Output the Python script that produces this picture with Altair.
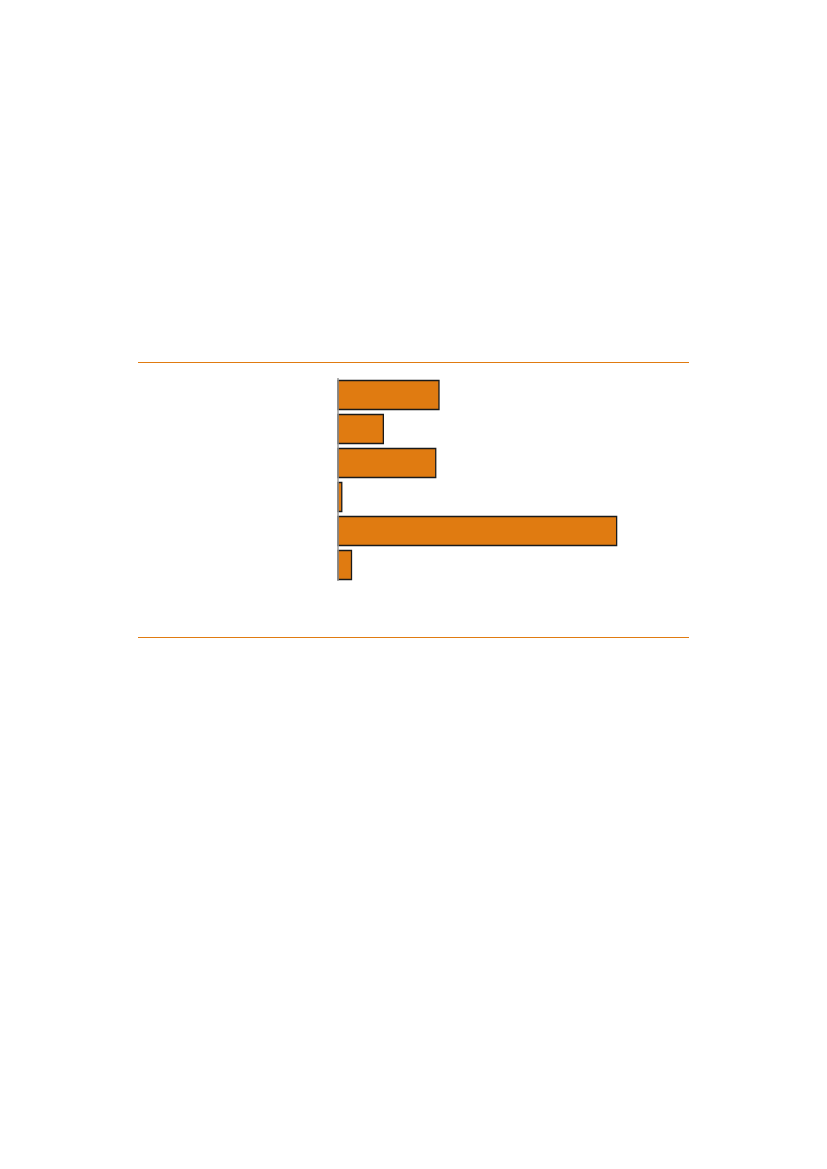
import altair as alt
import pandas as pd

categories = ["A", "B", "C", "D", "E", "F"]
values = [18.7, 8.4, 18.1, 0.7, 51.6, 2.5]

df = pd.DataFrame({"cat": categories, "val": values})

bars = alt.Chart(df).mark_bar(
    fill="#E07B11", stroke="#1a1a1a", strokeWidth=1.3
).encode(
    y=alt.Y("cat:N", sort=None, axis=None,
            scale=alt.Scale(range=[18.5, 217.5], paddingInner=0.147, paddingOuter=0)),
    x=alt.X("val:Q", axis=None, scale=alt.Scale(domain=[0, 65], nice=False)),
)

axis_line = alt.Chart().mark_rule(color="#999999", strokeWidth=1.5).encode(
    x=alt.value(0), y=alt.value(16), y2=alt.value(219)
)

top_rule = alt.Chart().mark_rule(color="#E07B11", strokeWidth=1).encode(
    x=alt.value(-200), x2=alt.value(351), y=alt.value(0.5)
)
bottom_rule = alt.Chart().mark_rule(color="#E07B11", strokeWidth=1).encode(
    x=alt.value(-200), x2=alt.value(351), y=alt.value(275.5)
)

chart = alt.layer(bars, axis_line, top_rule, bottom_rule).properties(
    width=351, height=276,
    autosize=alt.AutoSizeParams(type="none"),
    padding={"left": 330, "top": 354, "right": 10, "bottom": 10},
).configure_view(stroke=None)

chart.save("out.html", embed_options={"renderer": "svg", "actions": False})
